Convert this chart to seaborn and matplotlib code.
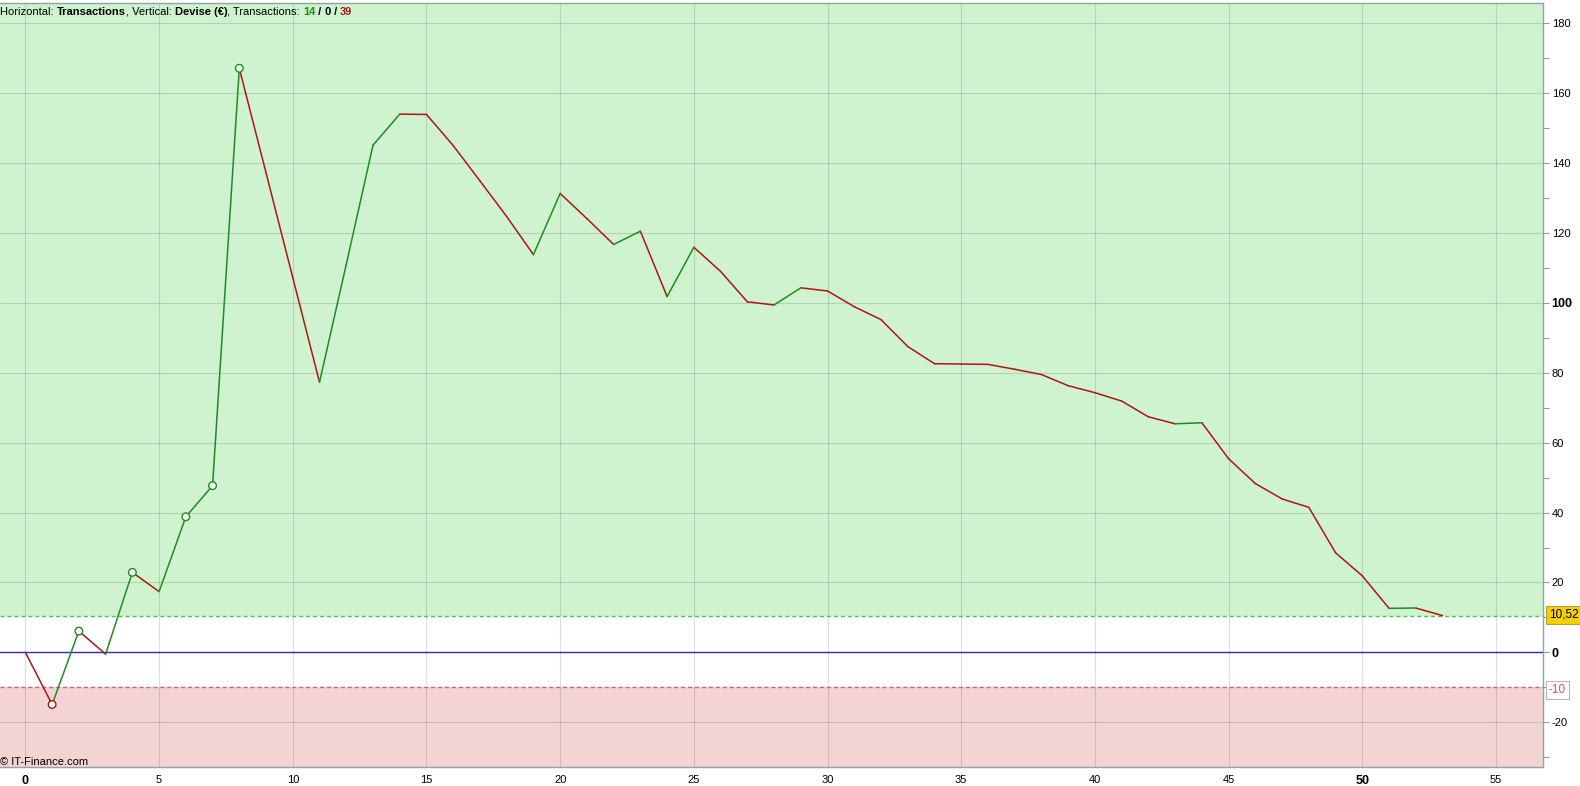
import matplotlib
matplotlib.use("Agg")
import matplotlib.pyplot as plt
import seaborn as sns
import numpy as np
import pandas as pd

# ---- data ----
equity = [0, -14.9, 6.1, -0.5, 22.9, 17.4, 38.8, 47.7, 167.1, 137.2, 107.2, 77.3,
          111.0, 145.1, 154.0, 153.9, 145.0, 134.9, 124.7, 113.8, 131.3, 124.1,
          116.7, 120.5, 101.8, 115.9, 109.0, 100.3, 99.4, 104.3, 103.4, 98.9,
          95.2, 87.5, 82.6, 82.5, 82.4, 81.0, 79.5, 76.3, 74.3, 71.9, 67.4, 65.4,
          65.7, 55.4, 48.3, 43.9, 41.5, 28.5, 21.9, 12.6, 12.7, 10.52]
x_ticks = [0, 5, 10, 15, 20, 25, 30, 35, 40, 45, 50, 55]
y_ticks = [-20, 0, 20, 40, 60, 80, 100, 120, 140, 160, 180]
final_value = 10.52
low_level = -10
wins, even, losses = 14, 0, 39

GREEN = "#1f8c1f"
RED = "#b01515"
FS = 8

sns.set_style("white")
plt.rcParams["font.family"] = ["Liberation Sans", "DejaVu Sans"]

fig = plt.figure(figsize=(15.8, 7.86), dpi=100)
ax = fig.add_axes([0, 0.02455, 0.9768, 0.9958 - 0.02455])
xmin, xmax = -0.95, 56.77
ymin, ymax = -32.7, 185.7

ax.axhspan(final_value, ymax, color="#cff2cf", zorder=0.1, lw=0)
ax.axhspan(ymin, low_level, color="#f4d3d3", zorder=0.1, lw=0)

# segments
rows = []
for i in range(len(equity) - 1):
    d = "up" if equity[i + 1] > equity[i] else "down"
    rows.append((i, i, equity[i], d))
    rows.append((i, i + 1, equity[i + 1], d))
seg = pd.DataFrame(rows, columns=["seg", "x", "y", "dir"])
sns.lineplot(data=seg, x="x", y="y", units="seg", hue="dir", estimator=None,
             palette={"up": GREEN, "down": RED}, legend=False, lw=1.1, ax=ax,
             zorder=3)

# new highs / lows markers
hx, hy, hc = [], [], []
run_max, run_min = equity[0], equity[0]
for i, v in enumerate(equity[1:], start=1):
    if v > run_max:
        run_max = v
        hx.append(i); hy.append(v); hc.append(GREEN)
    elif v < run_min:
        run_min = v
        hx.append(i); hy.append(v); hc.append(RED)
mk = pd.DataFrame({"x": hx, "y": hy})
sns.scatterplot(data=mk, x="x", y="y", ax=ax, s=30, facecolor="white",
                edgecolor=hc, linewidth=1.0, zorder=4, legend=False)

# reference lines
ax.axhline(0, color="#2a2ad8", lw=1.0, zorder=2)
ax.axhline(final_value, color="#48c848", lw=1.0, ls=(0, (3, 2)), zorder=2)
ax.axhline(low_level, color="#d86060", lw=1.0, ls=(0, (3, 2)), zorder=2)

ax.set_xlim(xmin, xmax)
ax.set_ylim(ymin, ymax)

ax.set_xticks(x_ticks, [str(t) for t in x_ticks])
ax.set_yticks(y_ticks, [str(t) for t in y_ticks])
ax.set_yticks(np.arange(-30, 181, 10), minor=True)
ax.yaxis.tick_right()
ax.tick_params(axis="y", which="both", direction="out", length=4, width=0.8,
               color="#8a9a9a", pad=2, labelsize=FS, labelcolor="black")
ax.tick_params(axis="x", direction="out", length=3, width=0.8, color="#9aa8a8",
               pad=3, labelsize=FS, labelcolor="black")
for lab in ax.get_xticklabels():
    if lab.get_text() in ("0", "50"):
        lab.set_fontweight("bold"); lab.set_fontsize(9)
for lab in ax.get_yticklabels():
    if lab.get_text() in ("0", "100"):
        lab.set_fontweight("bold"); lab.set_fontsize(9)

ax.grid(True, which="major", color="black", alpha=0.13, lw=0.8)
ax.set_axisbelow(True)
ax.set_xlabel("")
ax.set_ylabel("")
for s in ["top", "right", "bottom"]:
    ax.spines[s].set_visible(True)
    ax.spines[s].set_color("#8aa8a0")
    ax.spines[s].set_linewidth(1.0)
ax.spines["left"].set_visible(False)

# right side value labels
ax.text(1.0035, final_value + 0.3, f"{final_value:.2f}".replace(".", ","),
        transform=ax.get_yaxis_transform(), ha="left", va="center",
        fontsize=FS + 0.5, color="black",
        bbox=dict(boxstyle="square,pad=0.25", facecolor="#f5cf00",
                  edgecolor="#b8a040", lw=0.8), clip_on=False)
ax.text(1.0035, low_level - 0.8, str(low_level), transform=ax.get_yaxis_transform(),
        ha="left", va="center", fontsize=FS + 0.5, color="#e05050",
        bbox=dict(boxstyle="square,pad=0.25", facecolor="white",
                  edgecolor="#b0b8b8", lw=0.8), clip_on=False)

# header text
pieces = [("Horizontal: ", "normal", "black"), ("Transactions", "bold", "black"),
          (", Vertical: ", "normal", "black"), ("Devise (€)", "bold", "black"),
          (", Transactions: ", "normal", "black"), (str(wins), "bold", GREEN),
          (" / ", "bold", "black"), (str(even), "bold", "black"),
          (" / ", "bold", "black"), (str(losses), "bold", RED)]
fig.canvas.draw()
r = fig.canvas.get_renderer()
W = fig.get_figwidth() * fig.dpi
xpos = 0.0
for txt, w, c in pieces:
    t = fig.text(xpos, 1 - 15 / 786, txt, fontsize=FS, fontweight=w, color=c,
                 ha="left", va="baseline")
    bb = t.get_window_extent(renderer=r)
    xpos = bb.x1 / W

fig.text(0.0, 1 - 765 / 786, "© IT-Finance.com", fontsize=FS, color="black",
         ha="left", va="baseline")

fig.savefig("out.png", dpi=100)
